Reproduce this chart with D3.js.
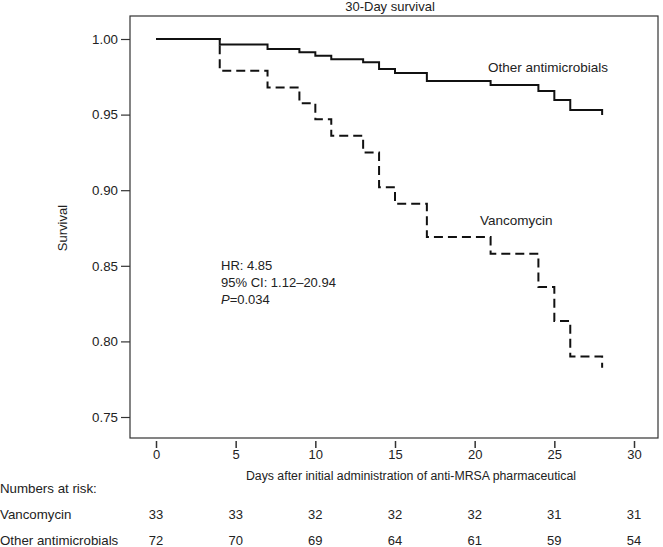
<!DOCTYPE html>
<html>
<head>
<meta charset="utf-8">
<script src="https://cdn.jsdelivr.net/npm/d3@7"></script>
<style>
  html, body { margin: 0; padding: 0; background: #fff; }
  svg { display: block; }
  text { font-family: Arial, "Liberation Sans", sans-serif; fill: #222; }
</style>
</head>
<body>
<svg id="chart" width="663" height="547"></svg>
<script>
// ---- data ----
const days = [0, 4, 7, 9, 10, 11, 13, 14, 15, 17, 21, 24, 25, 26, 28];
const vancoSurv = [1, 0.979, 0.968, 0.9575, 0.947, 0.936, 0.925, 0.902, 0.891, 0.869, 0.858, 0.836, 0.8135, 0.790, 0.7826];
const otherSurv = [1, 0.9964, 0.9934, 0.9912, 0.989, 0.9866, 0.9846, 0.9802, 0.9775, 0.9722, 0.9696, 0.9656, 0.9597, 0.953, 0.9497];
const xTicks = [0, 5, 10, 15, 20, 25, 30];
const yTicks = [0.75, 0.80, 0.85, 0.90, 0.95, 1.00];
const riskDays = [0, 5, 10, 15, 20, 25, 30];
const vancoRisk = [33, 33, 32, 32, 32, 31, 31];
const otherRisk = [72, 70, 69, 64, 61, 59, 54];
const statsLines = ["HR: 4.85", "95% CI: 1.12\u201320.94"];

const svg = d3.select("#chart");
const FS = 13;

const frame = { left: 130, right: 658, top: 16, bottom: 438 };
const x = d3.scaleLinear().domain([0, 30]).range([156, 634]);
const y = d3.scaleLinear().domain([0.75, 1]).range([417, 39]);

// title
svg.append("text").attr("x", 390).attr("y", 11).attr("text-anchor", "middle")
  .attr("font-size", FS).text("30-Day survival");

// frame
svg.append("rect").attr("x", frame.left).attr("y", frame.top)
  .attr("width", frame.right - frame.left).attr("height", frame.bottom - frame.top)
  .attr("fill", "none").attr("stroke", "#333").attr("stroke-width", 1.2);

// y axis
const yAxis = d3.axisLeft(y).tickValues(yTicks).tickFormat(d3.format(".2f")).tickSize(9).tickPadding(3);
const gy = svg.append("g").attr("transform", `translate(${frame.left},0)`).call(yAxis);
gy.select(".domain").remove();
gy.selectAll("line").attr("stroke", "#333").attr("stroke-width", 1.2);
gy.selectAll("text").attr("font-size", 13.3).attr("font-family", "Arial, 'Liberation Sans', sans-serif").attr("fill", "#222");

// x axis (ticks below frame)
const xAxis = d3.axisBottom(x).tickValues(xTicks).tickSize(7).tickPadding(2);
const gx = svg.append("g").attr("transform", `translate(0,${frame.bottom + 3})`).call(xAxis);
gx.select(".domain").remove();
gx.selectAll("line").attr("stroke", "#333").attr("stroke-width", 1.5);
gx.selectAll("text").attr("font-size", FS).attr("font-family", "Arial, 'Liberation Sans', sans-serif").attr("fill", "#222");

// axis titles
svg.append("text").attr("transform", "translate(67,228) rotate(-90)").attr("text-anchor", "middle")
  .attr("font-size", FS).text("Survival");
svg.append("text").attr("x", 411).attr("y", 480).attr("text-anchor", "middle")
  .attr("font-size", 12.3).text("Days after initial administration of anti-MRSA pharmaceutical");

// curves
const line = d3.line().x(d => x(d[0])).y(d => y(d[1])).curve(d3.curveStepAfter);
svg.append("path").datum(days.map((d, i) => [d, otherSurv[i]]))
  .attr("d", line).attr("fill", "none").attr("stroke", "#111").attr("stroke-width", 2);
svg.append("path").datum(days.map((d, i) => [d, vancoSurv[i]]))
  .attr("d", line).attr("fill", "none").attr("stroke", "#111").attr("stroke-width", 2)
  .attr("stroke-dasharray", "9,5");

// curve labels
svg.append("text").attr("x", 488).attr("y", 72).attr("font-size", 13.5).text("Other antimicrobials");
svg.append("text").attr("x", 480).attr("y", 225).attr("font-size", 13.5).text("Vancomycin");

// stats
statsLines.forEach((s, i) => {
  svg.append("text").attr("x", 221).attr("y", 270 + i * 17).attr("font-size", FS).text(s);
});
const pt = svg.append("text").attr("x", 221).attr("y", 304).attr("font-size", FS);
pt.append("tspan").attr("font-style", "italic").text("P");
pt.append("tspan").text("=0.034");

// numbers at risk
svg.append("text").attr("x", 0).attr("y", 493).attr("font-size", 13.3).text("Numbers at risk:");
const rows = [["Vancomycin", vancoRisk, 519], ["Other antimicrobials", otherRisk, 545]];
rows.forEach(([name, vals, yy]) => {
  svg.append("text").attr("x", 0).attr("y", yy).attr("font-size", 13.3).text(name);
  svg.selectAll(null).data(vals).enter().append("text")
    .attr("x", (d, i) => x(riskDays[i])).attr("y", yy).attr("text-anchor", "middle")
    .attr("font-size", FS).text(d => d);
});
</script>
</body>
</html>
